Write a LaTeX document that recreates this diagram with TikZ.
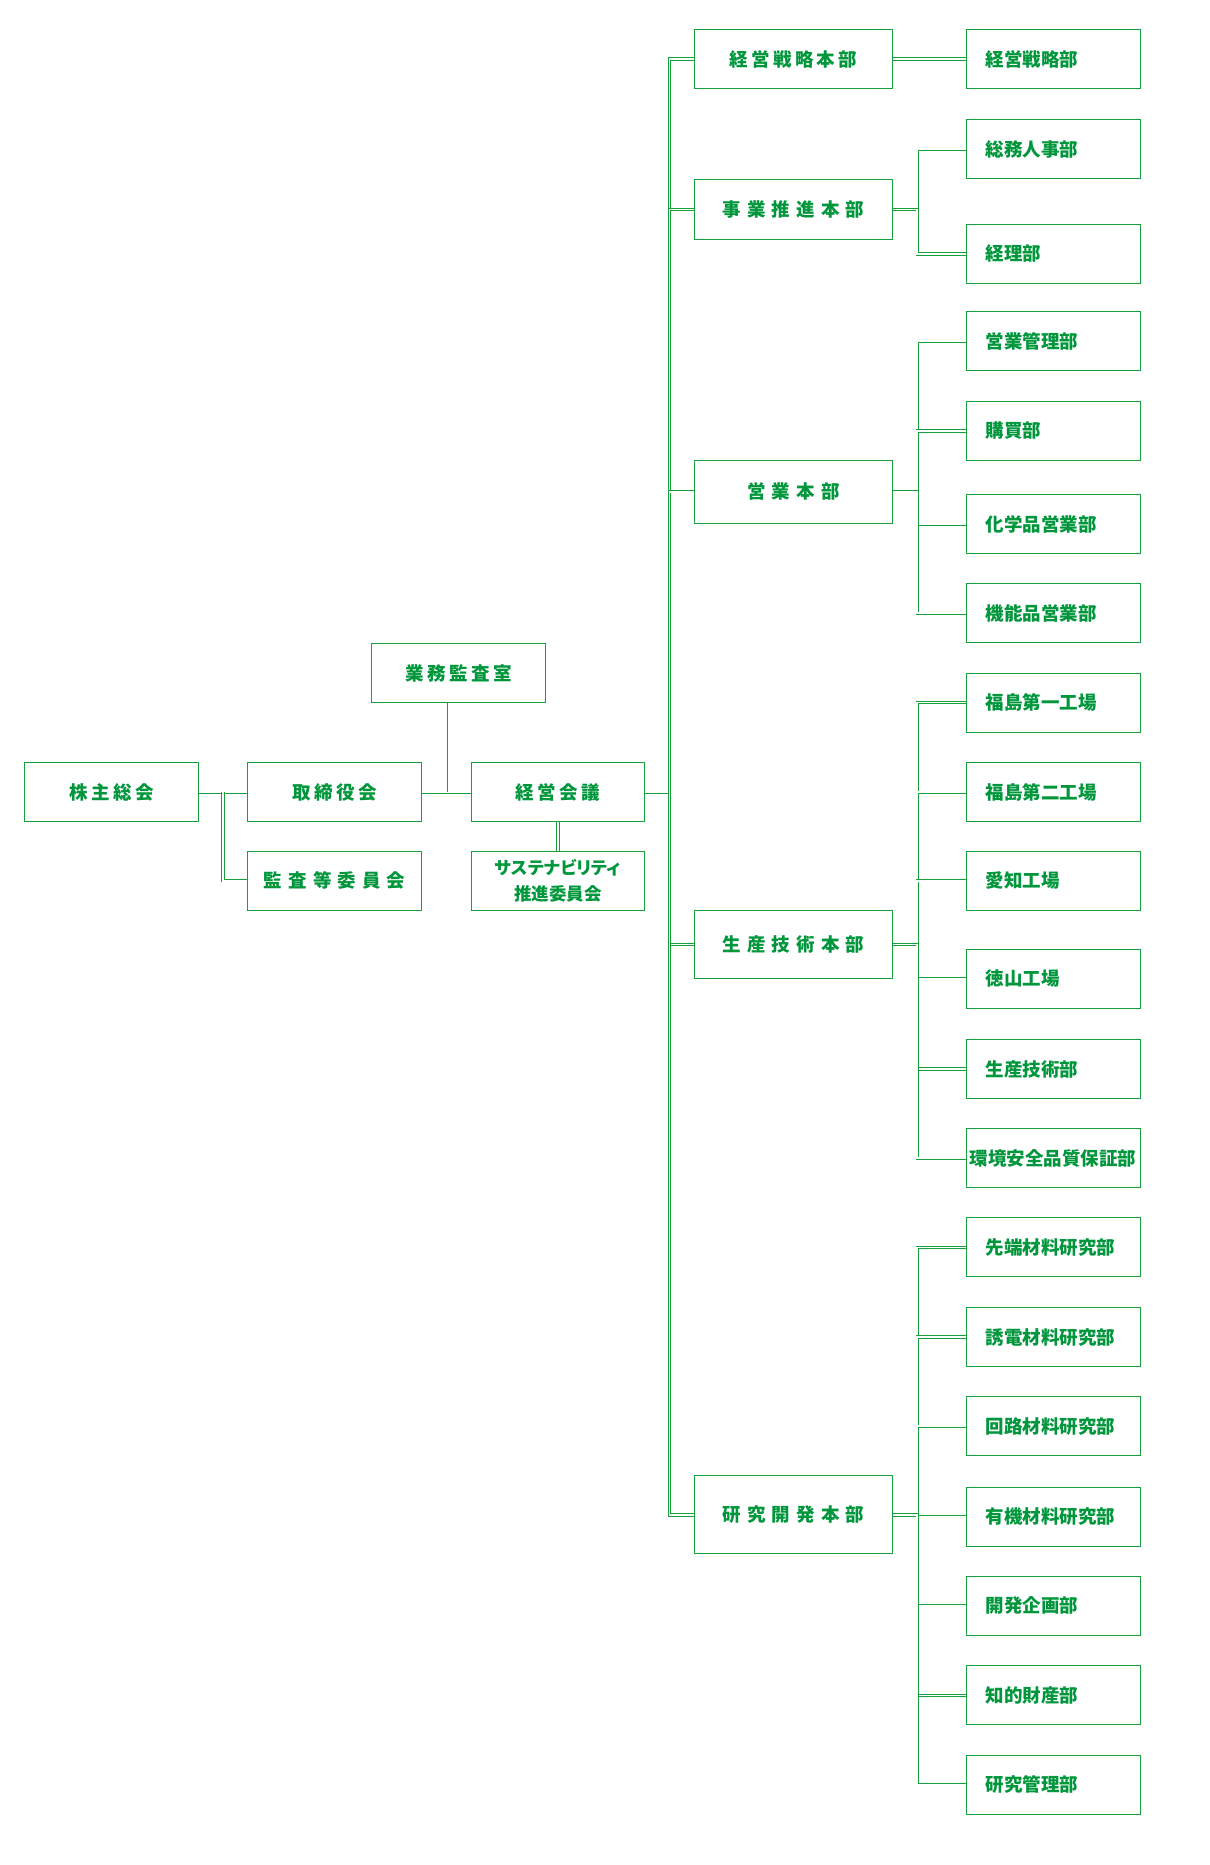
\documentclass[tikz,border=0pt]{standalone}
\usepackage{fontspec}
\setmainfont{Noto Sans CJK JP}
\definecolor{lg}{RGB}{22,160,60}
\definecolor{tg}{RGB}{0,150,60}
\newcommand\ga{\kern3.3pt}
\newcommand\gb{\kern6.1pt}
\begin{document}
\begin{tikzpicture}[x=1.1807pt,y=-1.1807pt,
  box/.style={draw=lg, line width=1pt, rectangle, minimum width=173.6pt, minimum height=59pt, inner sep=0pt, text=tg, font=\fontsize{18.5}{23}\selectfont\bfseries},
  hq/.style={box, minimum width=198.4pt},
  dept/.style={box, text width=135.8pt, align=left},
  wide/.style={box, text width=168pt, align=left},
  conn/.style={draw=lg, line width=0.8pt, double=white, double distance=1.8pt}]
\fill[white] (0,0) rectangle (1024,1579.6);
\path[use as bounding box] (0,0) rectangle (1024,1579.6);
% left part
\node[box] (kabu) at (94.5,671) {株\ga 主\ga 総\ga 会};
\node[box] (tori) at (283.5,671) {取\ga 締\ga 役\ga 会};
\node[box] (kansa) at (283.5,746) {監\gb 査\gb 等\gb 委\gb 員\gb 会};
\node[box] (gyomu) at (388.5,570) {業\ga 務\ga 監\ga 査\ga 室};
\node[box] (kaigi) at (472.5,671) {経\ga 営\ga 会\ga 議};
\node[box, align=center, font=\fontsize{17.5}{26}\selectfont\bfseries] (sust) at (472.5,746) {{\addfontfeature{RawFeature=+palt}サステナビリティ}\\推進委員会};
% headquarters
\node[hq] (hq1) at (672,50) {経\ga 営\ga 戦\ga 略\ga 本\ga 部};
\node[hq, minimum height=60.2pt] (hq2) at (672,177.5) {事\gb 業\gb 推\gb 進\gb 本\gb 部};
\node[hq, minimum height=62.6pt] (hq3) at (672,416.5) {営\gb 業\gb 本\gb 部};
\node[hq, minimum height=68.5pt] (hq4) at (672,800) {生\gb 産\gb 技\gb 術\gb 本\gb 部};
\node[hq, minimum height=77.9pt] (hq5) at (672,1283) {研\gb 究\gb 開\gb 発\gb 本\gb 部};
% departments
\node[dept] (d1) at (892.5,50) {経営戦略部};
\node[dept] (d2) at (892.5,126.5) {総務人事部};
\node[dept] (d3) at (892.5,215) {経理部};
\node[dept] (d4) at (892.5,289) {営業管理部};
\node[dept] (d5) at (892.5,365) {購買部};
\node[dept] (d6) at (892.5,444) {化学品営業部};
\node[dept] (d7) at (892.5,519.5) {機能品営業部};
\node[dept] (d8) at (892.5,595) {福島第一工場};
\node[dept] (d9) at (892.5,671) {福島第二工場};
\node[dept] (d10) at (892.5,746) {愛知工場};
\node[dept] (d11) at (892.5,829) {徳山工場};
\node[dept] (d12) at (892.5,905.5) {生産技術部};
\node[wide] (d13) at (892.5,981) {環境安全品質保証部};
\node[dept] (d14) at (892.5,1056.5) {先端材料研究部};
\node[dept] (d15) at (892.5,1132.5) {誘電材料研究部};
\node[dept] (d16) at (892.5,1208) {回路材料研究部};
\node[dept] (d17) at (892.5,1284.5) {有機材料研究部};
\node[dept] (d18) at (892.5,1360) {開発企画部};
\node[dept] (d19) at (892.5,1436) {知的財産部};
\node[dept] (d20) at (892.5,1511.5) {研究管理部};
% junction coordinates
\coordinate (jk) at (189,671);
\coordinate (jt) at (378,671);
\coordinate (jm) at (567,671);
% left connectors
\draw[conn] (kabu.east) -- (tori.west);
\draw[conn] (jk) |- (kansa.west);
\draw[conn] (tori.east) -- (kaigi.west);
\draw[conn] (gyomu.south -| jt) -- (jt);
\draw[conn] (kaigi.south) -- (sust.north);
% main trunk
\draw[conn] (kaigi.east) -- (jm);
\foreach \h in {hq1,hq2,hq3,hq4,hq5}
  \draw[conn] (jm) |- (\h.west);
% branches
\draw[conn] (hq1.east) -- (d1.west);
\foreach \h/\list in {hq2/{d2,d3}, hq3/{d4,d5,d6,d7}, hq4/{d8,d9,d10,d11,d12,d13}, hq5/{d14,d15,d16,d17,d18,d19,d20}}{
  \coordinate (b) at (777,0);
  \foreach \d in \list
    \draw[conn] (\h.east) -- (b |- \h.east) |- (\d.west);
}
\end{tikzpicture}
\end{document}
